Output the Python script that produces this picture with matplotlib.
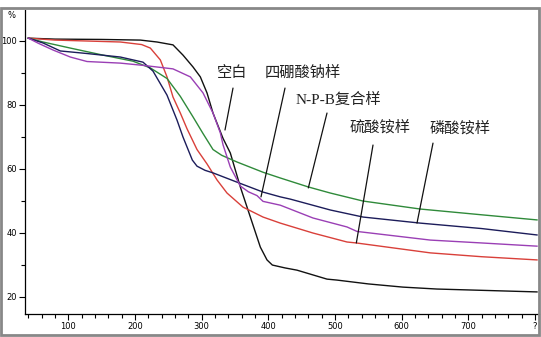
import matplotlib.pyplot as plt
from matplotlib.patches import Rectangle
from matplotlib.ticker import MultipleLocator, FixedLocator, FixedFormatter

plt.rcParams['font.family'] = ['Noto Sans CJK SC', 'DejaVu Sans']

# temperature (°C) / mass remaining (%)
t_blank = [40, 80, 150, 208, 233, 257, 272, 287, 298, 308, 317, 332, 343, 358, 373, 388, 398, 406, 425, 443, 488, 503, 550, 602, 653, 720, 803]
v_blank = [100.8, 100.5, 100.4, 100.2, 99.6, 98.7, 95.5, 91.8, 88.7, 83.7, 77.4, 69.5, 64.9, 54.3, 44.9, 35.5, 31.5, 29.9, 29.0, 28.3, 25.5, 25.2, 24.0, 23.0, 22.4, 22.0, 21.5]

t_red = [40, 80, 178, 210, 223, 238, 248, 257, 268, 278, 293, 308, 323, 338, 362, 392, 418, 467, 518, 532, 643, 720, 803]
v_red = [100.8, 100.2, 99.6, 98.8, 97.7, 94.0, 88.7, 82.4, 77.4, 72.5, 66.0, 61.5, 56.5, 52.4, 48.0, 44.9, 43.0, 39.9, 37.1, 36.8, 33.7, 32.5, 31.5]

t_green = [40, 62, 103, 152, 197, 223, 248, 268, 287, 302, 308, 317, 330, 353, 392, 418, 460, 493, 542, 628, 720, 803]
v_green = [100.8, 99.6, 97.7, 95.5, 93.6, 91.5, 88.2, 82.6, 76.2, 71.0, 69.0, 66.0, 64.2, 62.1, 58.9, 57.1, 54.3, 52.4, 49.9, 47.4, 45.6, 44.0]

t_navy = [40, 62, 88, 128, 178, 212, 227, 248, 263, 272, 286, 293, 305, 317, 353, 392, 418, 433, 493, 542, 628, 720, 803]
v_navy = [100.8, 99.3, 96.8, 96.0, 94.9, 93.3, 90.5, 83.0, 75.2, 69.9, 62.7, 60.8, 59.5, 58.7, 55.8, 52.7, 51.2, 50.5, 47.1, 44.9, 43.0, 41.3, 39.3]

t_purple = [40, 55, 77, 103, 128, 178, 212, 257, 283, 302, 317, 328, 332, 343, 358, 370, 383, 392, 418, 467, 518, 533, 643, 720, 803]
v_purple = [100.8, 99.2, 97.1, 94.9, 93.5, 93.0, 92.3, 91.2, 88.7, 83.7, 77.4, 71.2, 67.5, 60.5, 54.6, 52.8, 51.6, 49.8, 48.6, 44.6, 41.8, 40.4, 37.7, 36.8, 35.8]

# labels: text, text position, pointer start, pointer end (data coords)
labels = ['空白', '四硼酸钠样', 'N-P-B复合样', '硫酸铵样', '磷酸铵样']
label_xy = [(346, 90.2), (452, 90.2), (505, 81.5), (568, 73.0), (688, 72.7)]
ptr_start = [(347, 85.2), (425, 85.2), (488, 77.4), (557, 67.4), (647, 68.0)]
ptr_end = [(335, 72.1), (389, 51.2), (460, 54.0), (532, 36.8), (623, 43.0)]

x_major = [100, 200, 300, 400, 500, 600, 700, 800]
x_labels = ['100', '200', '300', '400', '500', '600', '700', '?']
y_major = [20, 40, 60, 80, 100]

fig = plt.figure(figsize=(5.41, 3.37), dpi=100)
ax = fig.add_axes([25 / 541, 1 - 314 / 337, 514 / 541, 304 / 337])

ax.plot(t_blank, v_blank, color='#111111', lw=1.0)
ax.plot(t_red, v_red, color='#d9403a', lw=1.0)
ax.plot(t_green, v_green, color='#2f8a3a', lw=1.0)
ax.plot(t_navy, v_navy, color='#1c1c5a', lw=1.0)
ax.plot(t_purple, v_purple, color='#9a3fb5', lw=1.0)

ax.set_xlim(35, 806)
ax.set_ylim(14.6, 109.6)

for spine in ['top', 'right']:
    ax.spines[spine].set_visible(False)
ax.spines['left'].set_linewidth(0.9)
ax.spines['bottom'].set_linewidth(0.9)

ax.xaxis.set_major_locator(FixedLocator(x_major))
ax.xaxis.set_major_formatter(FixedFormatter(x_labels))
ax.xaxis.set_minor_locator(MultipleLocator(20))
ax.yaxis.set_major_locator(FixedLocator(y_major))
ax.yaxis.set_minor_locator(MultipleLocator(10))
ax.tick_params(axis='both', which='major', labelsize=6, length=4, width=0.8, pad=2, direction='out')
ax.tick_params(axis='both', which='minor', length=3, width=0.8, direction='out')
for lab in ax.get_xticklabels() + ax.get_yticklabels():
    lab.set_family('DejaVu Sans')

fig.text(12 / 541, 1 - 15 / 337, '%', fontsize=6, ha='center', va='center', family='DejaVu Sans')

for i, text in enumerate(labels):
    if text.startswith('N-P-B'):
        fam = ['Liberation Serif', 'Noto Sans CJK SC']
    else:
        fam = ['Noto Sans CJK SC', 'DejaVu Sans']
    ax.text(label_xy[i][0], label_xy[i][1], text, fontsize=11, ha='center', va='center',
            family=fam, color='#222222')
    ax.annotate('', xy=ptr_end[i], xytext=ptr_start[i],
                arrowprops=dict(arrowstyle='-', color='#111111', lw=0.9, shrinkA=0, shrinkB=0))

fig.patches.append(Rectangle((1 / 541, 1 - 335 / 337), 538 / 541, 327 / 337, transform=fig.transFigure,
                             fill=False, edgecolor='#888888', lw=2))

fig.savefig('out.png', dpi=100)
